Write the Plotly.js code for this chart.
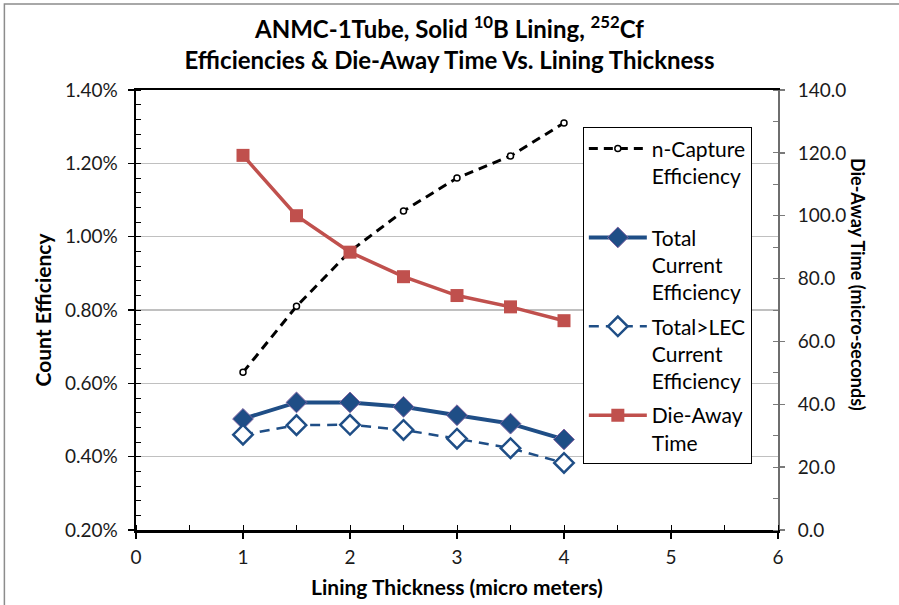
<!DOCTYPE html>
<html>
<head>
<meta charset="utf-8">
<script src="https://cdn.plot.ly/plotly-3.0.1.min.js"></script>
<style>
  html, body { margin: 0; padding: 0; background: #fff; }
  #chart { width: 899px; height: 605px; }
</style>
</head>
<body>
<div id="chart"></div>
<script>
// Lining thickness (micro meters)
const thickness = [1, 1.5, 2, 2.5, 3, 3.5, 4];
// Efficiencies (%)
const nCaptureEff = [0.63, 0.81, 0.96, 1.07, 1.16, 1.22, 1.31];
const totalCurrentEff = [0.503, 0.548, 0.548, 0.536, 0.513, 0.490, 0.447];
const totalLecEff = [0.460, 0.486, 0.487, 0.473, 0.449, 0.423, 0.383];
// Die-away time (micro-seconds)
const dieAwayTime = [119.2, 100.0, 88.4, 80.6, 74.6, 71.0, 66.6];

const FONT = 'Lato, "Open Sans", sans-serif';
const NAVY = '#1F4E86';
const RED = '#C0504D';

const traces = [
  {
    x: thickness, y: nCaptureEff, name: 'n-Capture<br>Efficiency<br> ', legendgroup: 'g1',
    type: 'scatter', mode: 'lines+markers', xaxis: 'x', yaxis: 'y',
    line: { color: '#000', width: 3, dash: '9px,6px' },
    marker: { symbol: 'circle', size: 6, color: '#fff', line: { color: '#000', width: 1.5 } }
  },
  {
    x: thickness, y: totalCurrentEff, name: 'Total<br>Current<br>Efficiency', legendgroup: 'g2',
    type: 'scatter', mode: 'lines+markers', xaxis: 'x', yaxis: 'y',
    line: { color: NAVY, width: 4 },
    marker: { symbol: 'diamond', size: 16, color: NAVY, line: { color: '#8064A2', width: 1 } }
  },
  {
    x: thickness, y: totalLecEff, name: 'Total&gt;LEC<br>Current<br>Efficiency', legendgroup: 'g3',
    type: 'scatter', mode: 'lines+markers', xaxis: 'x', yaxis: 'y',
    line: { color: NAVY, width: 2.5, dash: '10px,7px' },
    marker: { symbol: 'diamond', size: 15, color: '#fff', line: { color: NAVY, width: 2.5 } }
  },
  {
    x: thickness, y: dieAwayTime, name: 'Die-Away<br>Time', legendgroup: 'g4',
    type: 'scatter', mode: 'lines+markers', xaxis: 'x', yaxis: 'y2',
    line: { color: RED, width: 3.5 },
    marker: { symbol: 'square', size: 13, color: RED, line: { color: RED, width: 0 } }
  }
];

const tickFont = { family: FONT, size: 19, color: '#1a1a1a' };
const titleFont = { family: FONT, size: 21, color: '#000', weight: 'bold' };

const layout = {
  width: 899, height: 605,
  margin: { l: 136, r: 121, t: 90, b: 75 },
  paper_bgcolor: '#fff', plot_bgcolor: '#fff',
  font: { family: FONT, color: '#000' },
  title: {
    text: 'ANMC-1Tube, Solid <sup>10</sup>B Lining, <sup>252</sup>Cf<br>Efficiencies & Die-Away Time Vs. Lining Thickness',
    font: { family: FONT, size: 24, color: '#000', weight: 'bold' },
    x: 0.5, xanchor: 'center', xref: 'container',
    y: 0.937, yanchor: 'middle', yref: 'container'
  },
  showlegend: true,
  legend: {
    x: 0.696, y: 0.915, xanchor: 'left', yanchor: 'top',
    bgcolor: '#fff', bordercolor: '#000', borderwidth: 1,
    font: { family: FONT, size: 21, color: '#000' },
    valign: 'top', traceorder: 'grouped', tracegroupgap: 4, itemwidth: 58
  },
  xaxis: {
    range: [0, 6], dtick: 1, tick0: 0,
    showgrid: false, zeroline: false,
    showline: true, linecolor: '#000', linewidth: 2.5, mirror: true,
    ticks: 'outside', ticklen: 6, tickwidth: 1.5, tickcolor: '#000',
    minor: { dtick: 0.5, ticks: 'inside', ticklen: 5, tickwidth: 1, tickcolor: '#000' },
    tickfont: tickFont, ticklabelstandoff: 3,
    title: { text: 'Lining Thickness (micro meters)', font: titleFont, standoff: 13 }
  },
  xaxis2: {
    overlaying: 'x', anchor: 'y', range: [0, 6], dtick: 1, tick0: 0,
    showgrid: false, zeroline: false, showline: false, showticklabels: false,
    ticks: 'inside', ticklen: 6, tickwidth: 1.5, tickcolor: '#000'
  },
  yaxis: {
    range: [0.2, 1.4], dtick: 0.2, tick0: 0.2,
    tickformat: '.2f', ticksuffix: '%',
    showgrid: true, gridcolor: '#c0c0c0', gridwidth: 1.2, zeroline: false,
    showline: true, linecolor: '#000', linewidth: 2.5,
    ticks: 'outside', ticklen: 6, tickwidth: 1.5, tickcolor: '#000',
    minor: { dtick: 0.04, ticks: 'inside', ticklen: 5, tickwidth: 1, tickcolor: '#000' },
    tickfont: tickFont, ticklabelstandoff: 6,
    title: { text: 'Count Efficiency', font: titleFont, standoff: 8 }
  },
  yaxis2: {
    overlaying: 'y', side: 'right', anchor: 'x',
    range: [0, 140], dtick: 20, tick0: 0, tickformat: '.1f',
    showgrid: false, zeroline: false,
    showline: true, linecolor: '#6e6e6e', linewidth: 2,
    ticks: 'outside', ticklen: 5, tickwidth: 1.5, tickcolor: '#7a7a7a',
    minor: { dtick: 10, ticks: 'inside', ticklen: 5, tickwidth: 1, tickcolor: '#7a7a7a' },
    tickfont: tickFont, ticklabelstandoff: 9
  },
  yaxis3: {
    overlaying: 'y', side: 'right', anchor: 'x',
    range: [0, 140], dtick: 20, tick0: 0,
    showgrid: false, zeroline: false, showline: false, showticklabels: false,
    ticks: 'inside', ticklen: 5, tickwidth: 1.5, tickcolor: '#7a7a7a'
  },
  annotations: [
    {
      text: 'Die-Away Time (micro-seconds)', textangle: 90,
      xref: 'paper', yref: 'paper', x: 1.1246, y: 0.557,
      xanchor: 'center', yanchor: 'middle', showarrow: false,
      font: { family: FONT, size: 18, color: '#000', weight: 'bold' }
    }
  ],
  shapes: [
    {
      type: 'rect', xref: 'paper', yref: 'paper', layer: 'below',
      x0: -0.205, x1: 1.6, y0: -0.6, y1: 1.1955,
      line: { color: '#8c8c8c', width: 1.5 }, fillcolor: 'rgba(0,0,0,0)'
    }
  ]
};

Plotly.newPlot('chart', traces, layout, { displayModeBar: false, staticPlot: true });
</script>
</body>
</html>
